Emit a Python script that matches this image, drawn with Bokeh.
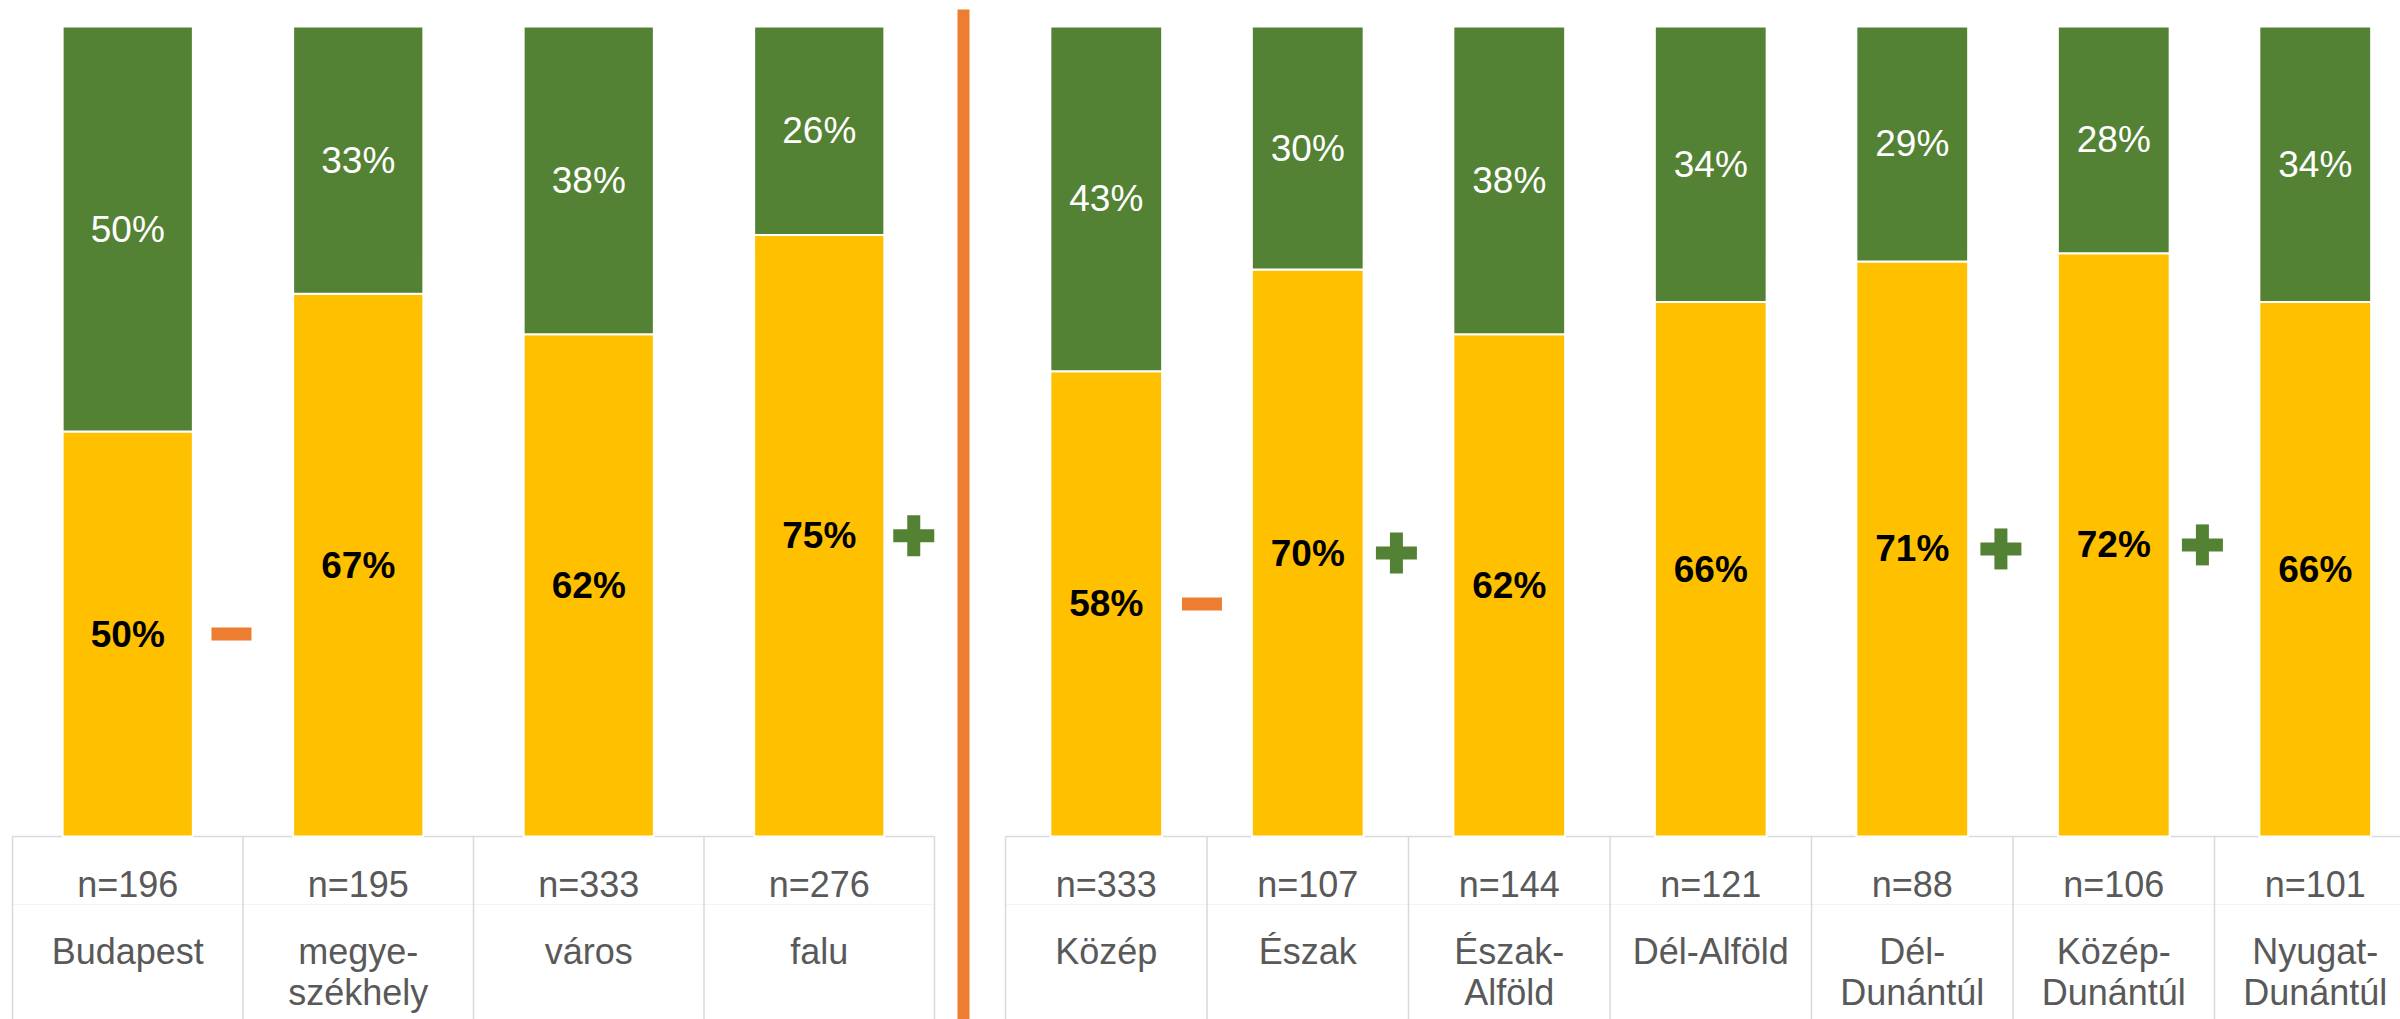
from bokeh.plotting import figure
from bokeh.layouts import row
from bokeh.models import Range1d, ColumnDataSource
from bokeh.core.properties import value
from bokeh.embed import file_html
from bokeh.resources import INLINE

# ---------------- data ----------------
left_cats = ["Budapest", "megye-\nszékhely", "város", "falu"]
left_n = [196, 195, 333, 276]
left_yes = [50, 67, 62, 75]
left_no = [50, 33, 38, 26]
left_sig = ["-", "", "", "+"]

right_cats = ["Közép", "Észak", "Észak-\nAlföld", "Dél-Alföld",
              "Dél-\nDunántúl", "Közép-\nDunántúl", "Nyugat-\nDunántúl"]
right_n = [333, 107, 144, 121, 88, 106, 101]
right_yes = [58, 70, 62, 66, 71, 72, 66]
right_no = [43, 30, 38, 34, 29, 28, 34]
right_sig = ["-", "+", "", "", "+", "+", ""]

# ---------------- style ----------------
YELLOW = "#FFC000"
GREEN = "#548235"
ORANGE = "#ED7D31"
GRID = "#D9D9D9"
TXT = "#595959"
FONT = value("Liberation Sans")
H = 1019
PX = 8.1                      # pixels per percentage point
Y0, Y1 = (836 - H) / PX, 836 / PX


def panel(cats, ns, yes, no, sig, width, x_start, x_end, bar_w,
          off_plus, off_minus, hline_end, divider_at=None):
    p = figure(width=width, height=H, x_range=Range1d(x_start, x_end),
               y_range=Range1d(Y0, Y1), output_backend="svg",
               toolbar_location=None, min_border=0)
    p.axis.visible = False
    p.grid.visible = False
    p.outline_line_color = None
    p.background_fill_color = "white"
    p.border_fill_color = "white"

    k = len(cats)
    xs = [i + 0.5 for i in range(k)]
    yb = [a / (a + b) * 100 for a, b in zip(yes, no)]
    src = ColumnDataSource(dict(
        x=xs, yb=yb, top=[100] * k,
        ymid=[v / 2 for v in yb],
        gmid=[(v + 100) / 2 for v in yb],
        ylab=[f"{v}%" for v in yes],
        glab=[f"{v}%" for v in no],
    ))

    # table lines
    p.segment(x0=[0], y0=[0], x1=[hline_end], y1=[0], line_color=GRID, line_width=1.5)
    p.segment(x0=[0], y0=[-8.4], x1=[hline_end], y1=[-8.4], line_color="#F3F3F3", line_width=1)
    p.segment(x0=list(range(k + 1)), y0=[0] * (k + 1),
              x1=list(range(k + 1)), y1=[-40] * (k + 1),
              line_color=GRID, line_width=1.5)

    # bars
    p.vbar(x="x", bottom=0, top="yb", width=bar_w, source=src,
           fill_color=YELLOW, line_color="white", line_width=2)
    p.vbar(x="x", bottom="yb", top="top", width=bar_w, source=src,
           fill_color=GREEN, line_color="white", line_width=2)

    p.text(x="x", y="ymid", text="ylab", source=src, text_align="center",
           text_baseline="middle", text_font=FONT, text_font_size="37px",
           text_font_style="bold", text_color="black")
    p.text(x="x", y="gmid", text="glab", source=src, text_align="center",
           text_baseline="middle", text_font=FONT, text_font_size="37px",
           text_color="white")

    # table texts
    p.text(x=xs, y=[-5.95] * k, text=[f"n={n}" for n in ns], text_align="center",
           text_baseline="alphabetic", text_font=FONT, text_font_size="36px",
           text_color=TXT)
    l1 = [c.split("\n")[0] for c in cats]
    l2 = [c.split("\n")[1] if "\n" in c else "" for c in cats]
    p.text(x=xs, y=[-14.2] * k, text=l1, text_align="center",
           text_baseline="alphabetic", text_font=FONT, text_font_size="36px",
           text_color=TXT)
    p.text(x=xs, y=[-19.2] * k, text=l2, text_align="center",
           text_baseline="alphabetic", text_font=FONT, text_font_size="36px",
           text_color=TXT)

    # significance markers
    px = [x + off_plus for x, s in zip(xs, sig) if s == "+"]
    py = [v / 2 for v, s in zip(yb, sig) if s == "+"]
    mx = [x + off_minus for x, s in zip(xs, sig) if s == "-"]
    my = [v / 2 for v, s in zip(yb, sig) if s == "-"]
    if px:
        p.rect(x=px, y=py, width=41, height=13, width_units="screen",
               height_units="screen", fill_color=GREEN, line_color=None)
        p.rect(x=px, y=py, width=13, height=41, width_units="screen",
               height_units="screen", fill_color=GREEN, line_color=None)
    if mx:
        p.rect(x=mx, y=my, width=40, height=13, width_units="screen",
               height_units="screen", fill_color=ORANGE, line_color=None)

    if divider_at is not None:
        p.segment(x0=[divider_at], y0=[(836 - 9) / PX], x1=[divider_at], y1=[Y0 - 5],
                  line_color=ORANGE, line_width=12, line_cap="butt")
    return p


left = panel(left_cats, left_n, left_yes, left_no, left_sig,
             width=970, x_start=(0 - 12) / 230.5, x_end=(970 - 12) / 230.5,
             bar_w=0.565, off_plus=0.41, off_minus=0.45, hline_end=4,
             divider_at=(963 - 12) / 230.5)
right = panel(right_cats, right_n, right_yes, right_no, right_sig,
              width=1430, x_start=(970 - 1005) / 201.5, x_end=(2400 - 1005) / 201.5,
              bar_w=0.555, off_plus=0.44, off_minus=0.475, hline_end=8)

layout = row(left, right, spacing=0)
open("out.html", "w").write(file_html(layout, INLINE))
